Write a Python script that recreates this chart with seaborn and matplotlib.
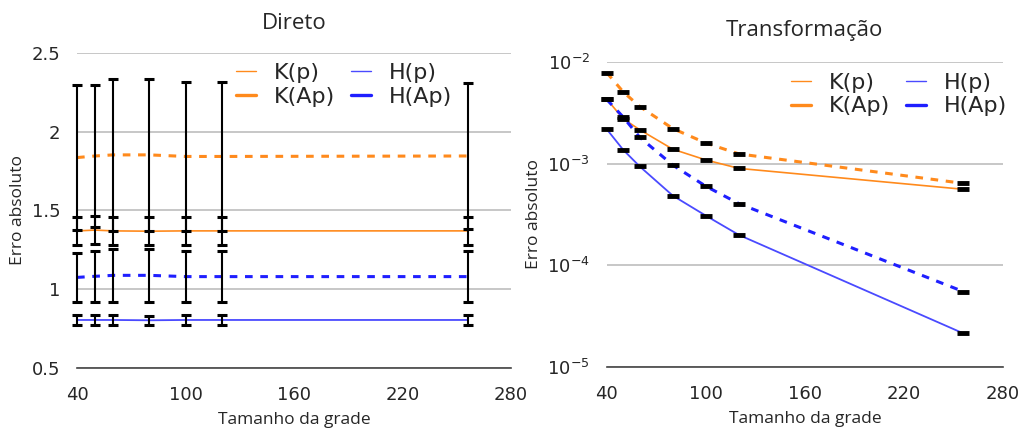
import matplotlib
matplotlib.use("Agg")
import matplotlib.pyplot as plt
import matplotlib.ticker as mticker
from matplotlib.lines import Line2D
import numpy as np
import pandas as pd
import seaborn as sns

# grid sizes
grid = [40, 50, 60, 80, 100, 120, 256]

# Direto: absolute error and error-bar half widths
dir_kp = [1.37, 1.375, 1.37, 1.368, 1.37, 1.37, 1.37]
dir_kp_err = [0.09, 0.09, 0.09, 0.09, 0.09, 0.09, 0.09]
dir_kap = [1.835, 1.845, 1.852, 1.852, 1.842, 1.842, 1.845]
dir_kap_err = [0.46, 0.45, 0.48, 0.48, 0.47, 0.47, 0.465]
dir_hp = [0.805, 0.805, 0.805, 0.803, 0.805, 0.805, 0.805]
dir_hp_err = [0.03, 0.03, 0.03, 0.03, 0.03, 0.03, 0.03]
dir_hap = [1.075, 1.082, 1.088, 1.088, 1.08, 1.08, 1.08]
dir_hap_err = [0.155, 0.16, 0.17, 0.17, 0.16, 0.16, 0.16]

# Transformacao: absolute error
tr_kp = [4.33e-3, 2.77e-3, 2.16e-3, 1.39e-3, 1.09e-3, 9.0e-4, 5.6e-4]
tr_kap = [7.9e-3, 5.1e-3, 3.66e-3, 2.22e-3, 1.6e-3, 1.25e-3, 6.4e-4]
tr_hp = [2.19e-3, 1.37e-3, 9.4e-4, 4.85e-4, 3.08e-4, 1.99e-4, 2.13e-5]
tr_hap = [4.3e-3, 2.88e-3, 1.82e-3, 9.7e-4, 6.0e-4, 4.05e-4, 5.5e-5]

labels = ["K(p)", "K(Ap)", "H(p)", "H(Ap)"]
xticks = [40, 100, 160, 220, 280]

orange = "#ff8a1c"
blue = "#1f1fff"
blue_thin = "#4a4aff"

sns.set_style("white")
plt.rcParams["font.family"] = ["DejaVu Sans"]
label_font = ["Open Sans", "DejaVu Sans"]

styles = {
    "K(p)": dict(color=orange, lw=1.2, ls="-"),
    "K(Ap)": dict(color=orange, lw=2.2, ls=(0, (2.5, 2.5))),
    "H(p)": dict(color=blue_thin, lw=1.3, ls="-"),
    "H(Ap)": dict(color=blue, lw=2.2, ls=(0, (2.5, 2.5))),
}


def long_df(series):
    rows = []
    for name, vals in zip(labels, series):
        for g, v in zip(grid, vals):
            rows.append({"grid": g, "erro": v, "serie": name})
    return pd.DataFrame(rows)


def style_axis(ax, leg_x):
    for s in ["left", "right", "top"]:
        ax.spines[s].set_visible(False)
    ax.spines["bottom"].set_color("#444444")
    ax.spines["bottom"].set_linewidth(1.2)
    ax.yaxis.grid(True, color="#bdbdbd", lw=1.2)
    ax.xaxis.grid(False)
    ax.set_axisbelow(True)
    ax.set_xlim(40, 280)
    ax.set_xticks(xticks)
    ax.tick_params(axis="x", direction="in", length=5, width=1, color="#444444",
                   labelsize=13, pad=13)
    ax.tick_params(axis="y", length=0, labelsize=13, pad=12)
    ax.set_xlabel("Tamanho da grade", family=label_font, fontsize=12.5, labelpad=6)
    ax.set_ylabel("Erro absoluto", family=label_font, fontsize=12.5, labelpad=4)
    handles = [Line2D([], [], color=styles[n]["color"],
                      lw=1.0 if "(p)" in n else 2.4) for n in labels]
    ax.legend(handles, labels, ncol=2, frameon=False, loc="upper right",
              bbox_to_anchor=(leg_x, 1.03), handlelength=0.9, handletextpad=0.8,
              columnspacing=0.7, labelspacing=0.15, borderpad=0.4,
              prop={"family": ["DejaVu Sans"], "size": 16})


fig = plt.figure(figsize=(10.19, 4.32), dpi=100)
ax1 = fig.add_axes([0.0756, 0.148, 0.426, 0.730])
ax2 = fig.add_axes([0.5954, 0.151, 0.389, 0.705])

# Direto
df1 = long_df([dir_kp, dir_kap, dir_hp, dir_hap])
for name in labels:
    sub = df1[df1["serie"] == name]
    sns.lineplot(data=sub, x="grid", y="erro", ax=ax1, color=styles[name]["color"],
                 lw=styles[name]["lw"], linestyle=styles[name]["ls"], legend=False)
for vals, err in [(dir_kap, dir_kap_err), (dir_kp, dir_kp_err),
                  (dir_hap, dir_hap_err), (dir_hp, dir_hp_err)]:
    eb = ax1.errorbar(grid, vals, yerr=err, fmt="none", ecolor="black", elinewidth=1.5,
                      capsize=3.4, capthick=2.2, zorder=3)
    for artist in eb.lines[1] + eb.lines[2]:
        artist.set_clip_on(False)
ax1.set_ylim(0.5, 2.5)
ax1.set_yticks([0.5, 1, 1.5, 2, 2.5])
ax1.yaxis.set_major_formatter(mticker.FuncFormatter(lambda v, p: f"{v:g}"))
style_axis(ax1, 0.91)
ax1.set_title("Direto", family=label_font, fontsize=16, pad=17)

# Transformacao
df2 = long_df([tr_kp, tr_kap, tr_hp, tr_hap])
for name in labels:
    sub = df2[df2["serie"] == name]
    sns.lineplot(data=sub, x="grid", y="erro", ax=ax2, color=styles[name]["color"],
                 lw=styles[name]["lw"], linestyle=styles[name]["ls"], legend=False)
    ax2.plot(sub["grid"], sub["erro"], ls="none", marker="_", ms=9, mew=3.5,
             color="black", zorder=3, clip_on=False)
ax2.set_yscale("log")
ax2.set_ylim(1e-5, 1e-2)
ax2.yaxis.set_major_locator(mticker.LogLocator(base=10, numticks=10))
ax2.yaxis.set_minor_locator(mticker.NullLocator())
style_axis(ax2, 1.06)
ax2.set_title("Transformação", family=label_font, fontsize=16, pad=19)

fig.savefig("out.png", dpi=100)
